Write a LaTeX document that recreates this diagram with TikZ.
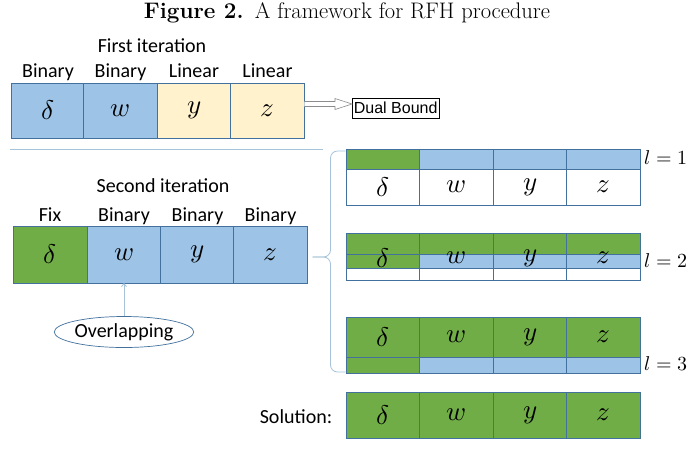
\documentclass[tikz,border=0pt]{standalone}
\usepackage{fontspec}
\usepackage{unicode-math}
\setmathfont{Latin Modern Math}
\newfontfamily\calib{Carlito}
\newfontfamily\arialf{Liberation Sans}
\usetikzlibrary{shapes.geometric,arrows.meta,calc}
\definecolor{bluec}{HTML}{9DC3E6}
\definecolor{bordc}{HTML}{41719C}
\definecolor{yelc}{HTML}{FFF2CC}
\definecolor{greenc}{HTML}{70AD47}
\definecolor{linec}{HTML}{A6C3D9}
\definecolor{arrowc}{HTML}{8C8C8C}
\tikzset{
  cell/.style={draw=bordc, line width=0.8pt, inner sep=0pt, outer sep=0pt, minimum width=73.5pt},
  mtxt/.style={font=\fontsize{27}{29}\selectfont},
  lab/.style={font=\calib\fontsize{20}{22}\selectfont, inner sep=0pt},
  lval/.style={font=\fontsize{20}{22}\selectfont, inner sep=0pt},
  thinl/.style={draw=linec, line width=0.8pt},
}
\begin{document}
\begin{tikzpicture}[x=1pt,y=-1pt]
\useasboundingbox[fill=white] (0,0) rectangle (692,451);
% title
\node (title) at (347,13) {\fontsize{22.5}{25}\selectfont\textbf{Figure 2.}\enspace A framework for RFH procedure};
% first iteration
\node[lab] (it1) at (152,46) {First iteration};
\foreach \n/\x/\c/\t/\l in {a/48/bluec/\delta/Binary, b/120.5/bluec/w/Binary, c/194/yelc/y/Linear, d/267.5/yelc/z/Linear}{
  \node[cell, fill=\c, minimum height=55pt, mtxt] (r1\n) at (\x,110.5) {$\t$};
  \node[lab, anchor=base] (l1\n) at ($(r1\n.north)+(0,-6)$) {\l};
}
% dual bound
\node[draw=black, line width=0.7pt, fill=white, font=\arialf\fontsize{16}{18}\selectfont, inner sep=1.5pt, minimum height=20pt, anchor=west] (dual) at (352,108) {Dual Bound};
\coordinate (as) at ($(r1d.north east)+(0,21)$);
\draw[arrowc, line width=0.6pt, fill=white, line join=miter]
  ($(as)+(0,-2.5)$) -- ($(as -| dual.west)+(-17,-2.5)$) -- ($(as -| dual.west)+(-17,-5.5)$)
  -- (as -| dual.west) -- ($(as -| dual.west)+(-17,5.5)$) -- ($(as -| dual.west)+(-17,2.5)$)
  -- ($(as)+(0,2.5)$);
% separator
\coordinate (sepL) at (10,149);
\coordinate (sepR) at (323,149);
\draw[thinl] (sepL) -- (sepR);
% second iteration
\node[lab] (it2) at (163,186) {Second iteration};
\foreach \n/\x/\c/\t/\l in {a/50/greenc/\delta/Fix, b/124/bluec/w/Binary, c/197.5/bluec/y/Binary, d/270.5/bluec/z/Binary}{
  \node[cell, fill=\c, minimum width=74pt, minimum height=57pt, mtxt] (r2\n) at (\x,254.5) {$\t$};
  \node[lab, anchor=base] (l2\n) at ($(r2\n.north)+(0,-5)$) {\l};
}
\node[ellipse, draw=bordc, line width=0.7pt, minimum width=128pt, minimum height=31pt, inner sep=0pt, font=\calib\fontsize{20}{22}\selectfont] (ov) at (124,332) {Overlapping};
\draw[thinl, -{Straight Barb[length=3pt,width=5pt]}] (ov.north) -- (r2b.south);
% brace
\coordinate (btip) at ($(r2d.east)+(5,2.5)$);
\draw[thinl, rounded corners=7pt] (btip) -- ++(18,0) -- ++(0,-106) -- ++(15,0);
\draw[thinl, rounded corners=7pt] (btip) -- ++(18,0) -- ++(0,115) -- ++(15,0);
% l = 1
\foreach \n/\x/\c/\t in {a/383/greenc/\delta, b/456.5/bluec/w, c/530/bluec/y, d/603.5/bluec/z}{
  \node[cell, fill=\c, minimum height=20pt] (s1\n) at (\x,159) {};
  \node[cell, fill=white, minimum height=36pt, mtxt] (m1\n) at (\x,187) {$\t$};
}
\node[lval] (L1) at (666,158) {$l=1$};
% l = 2
\foreach \n/\x/\c/\t in {a/383/greenc/\delta, b/456.5/bluec/w, c/530/bluec/y, d/603.5/bluec/z}{
  \node[cell, fill=greenc, minimum height=21pt] (s2\n) at (\x,243.5) {};
  \node[cell, fill=\c, minimum height=14pt] (m2\n) at (\x,261) {};
  \node[cell, fill=white, minimum height=12pt] (w2\n) at (\x,274) {};
  \node[mtxt, inner sep=0pt] (t2\n) at (\x,258) {$\t$};
}
\node[lval] (L2) at (666,261) {$l=2$};
% l = 3
\foreach \n/\x/\c/\t in {a/383/greenc/\delta, b/456.5/bluec/w, c/530/bluec/y, d/603.5/bluec/z}{
  \node[cell, fill=greenc, minimum height=40pt, mtxt] (m3\n) at (\x,337) {$\t$};
  \node[cell, fill=\c, minimum height=16pt] (s3\n) at (\x,365) {};
}
\node[lval] (L3) at (666,364) {$l=3$};
% solution
\foreach \n/\x/\t in {a/383/\delta, b/456.5/w, c/530/y, d/603.5/z}{
  \node[cell, fill=greenc, minimum height=46pt, mtxt] (so\n) at (\x,415) {$\t$};
}
\node[lab] (sol) at (296,417) {Solution:};
\end{tikzpicture}
\end{document}
